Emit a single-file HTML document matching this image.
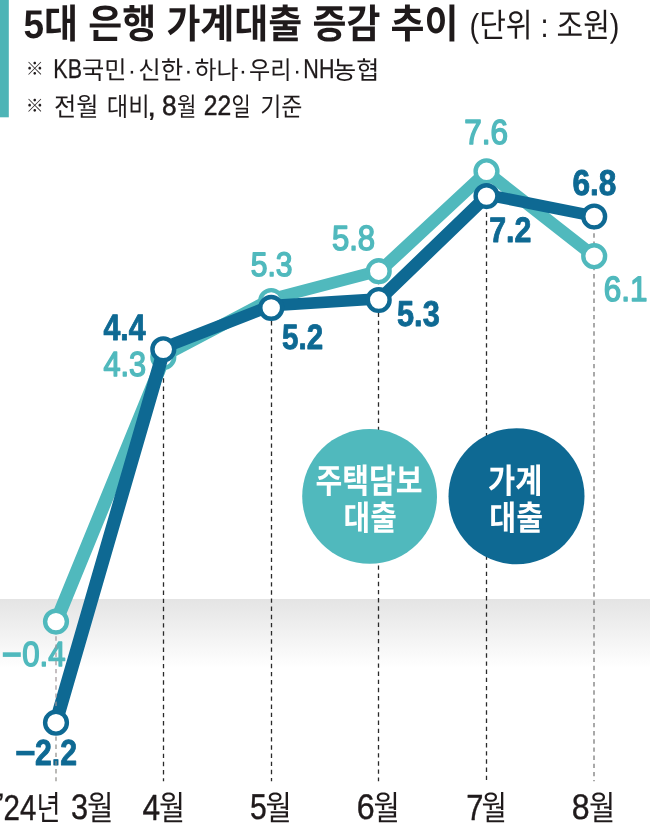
<!DOCTYPE html>
<html lang="ko"><head><meta charset="utf-8">
<title>5대 은행 가계대출 증감 추이</title>
<style>
html,body{margin:0;padding:0;background:#fff}
body{width:650px;height:827px;overflow:hidden;font-family:"Liberation Sans","Noto Sans CJK KR",sans-serif}
svg{display:block;will-change:transform}
text{font-family:"Liberation Sans","Noto Sans CJK KR",sans-serif;font-kerning:none;text-rendering:geometricPrecision}
</style></head><body>
<svg width="650" height="827" viewBox="0 0 650 827" role="img" aria-label="5대 은행 가계대출 증감 추이 (단위 : 조원)">
<defs><linearGradient id="zg" x1="0" y1="0" x2="0" y2="1"><stop offset="0" stop-color="#e4e4e4"/><stop offset="1" stop-color="#ffffff"/></linearGradient></defs>
<rect width="650" height="827" fill="#fff"/>
<rect x="0" y="599" width="650" height="69" fill="url(#zg)"/>
<rect x="0" y="0" width="8.8" height="117.3" fill="#4db4b6"/>
<g fill="#1f1a1b" aria-label="5대 은행 가계대출 증감 추이"><title>5대 은행 가계대출 증감 추이</title><text x="23.5" y="37.8" font-size="40" font-weight="700" fill="#1f1a1b" textLength="435" lengthAdjust="spacingAndGlyphs">5대 은행 가계대출 증감 추이</text></g>
<g fill="#1f1a1b" aria-label="(단위 : 조원)"><title>(단위 : 조원)</title><text x="469.5" y="37" font-size="33" fill="#1f1a1b" textLength="150" lengthAdjust="spacingAndGlyphs">(단위 : 조원)</text></g>
<text x="34.85" y="75.2" font-size="18" fill="#1f1a1b" text-anchor="middle">※</text>
<text x="34.85" y="112.4" font-size="18" fill="#1f1a1b" text-anchor="middle">※</text>
<g fill="#1f1a1b" aria-label="※ KB국민·신한·하나·우리·NH농협"><text x="82" y="79" font-size="25" fill="#1f1a1b" textLength="44.5" lengthAdjust="spacingAndGlyphs">국민</text><text x="131.9" y="79" font-size="25" fill="#1f1a1b" text-anchor="middle">·</text><text x="138.2" y="79" font-size="25" fill="#1f1a1b" textLength="45" lengthAdjust="spacingAndGlyphs">신한</text><text x="188.4" y="79" font-size="25" fill="#1f1a1b" text-anchor="middle">·</text><text x="194.5" y="79" font-size="25" fill="#1f1a1b" textLength="44" lengthAdjust="spacingAndGlyphs">하나</text><text x="243" y="79" font-size="25" fill="#1f1a1b" text-anchor="middle">·</text><text x="249" y="79" font-size="25" fill="#1f1a1b" textLength="42.5" lengthAdjust="spacingAndGlyphs">우리</text><text x="297.1" y="79" font-size="25" fill="#1f1a1b" text-anchor="middle">·</text><text x="333" y="79" font-size="25" fill="#1f1a1b" textLength="46.3" lengthAdjust="spacingAndGlyphs">농협</text><text transform="translate(53.36 78.25) scale(0.7904 1)" font-size="27.18" fill="#1f1a1b" stroke="#1f1a1b" stroke-width="0.30" stroke-linejoin="round">KB</text><text transform="translate(303.35 78.25) scale(0.7918 1)" font-size="27.18" fill="#1f1a1b" stroke="#1f1a1b" stroke-width="0.30" stroke-linejoin="round">NH</text></g>
<g fill="#1f1a1b" aria-label="※ 전월 대비, 8월 22일 기준"><text x="54" y="116" font-size="26" fill="#1f1a1b" textLength="44.5" lengthAdjust="spacingAndGlyphs">전월</text><text x="106.8" y="116" font-size="26" fill="#1f1a1b" textLength="42.8" lengthAdjust="spacingAndGlyphs">대비</text><text x="177" y="116" font-size="26" fill="#1f1a1b" textLength="19.4" lengthAdjust="spacingAndGlyphs">월</text><text x="231.4" y="116" font-size="26" fill="#1f1a1b" textLength="19.2" lengthAdjust="spacingAndGlyphs">일</text><text x="260.2" y="116" font-size="26" fill="#1f1a1b" textLength="42.2" lengthAdjust="spacingAndGlyphs">기준</text><text transform="translate(146.96 115.67) scale(1.0745 1)" font-size="31.08" fill="#1f1a1b" stroke="#1f1a1b" stroke-width="0.30" stroke-linejoin="round">,</text><text transform="translate(162.09 114.88) scale(0.9442 1)" font-size="27.82" fill="#1f1a1b" stroke="#1f1a1b" stroke-width="0.50" stroke-linejoin="round">8</text><text transform="translate(203.78 114.95) scale(0.8833 1)" font-size="27.93" fill="#1f1a1b" stroke="#1f1a1b" stroke-width="0.50" stroke-linejoin="round">22</text></g>
<g fill="none" stroke-width="1.3" stroke-dasharray="4.4 3.76">
<line x1="163.5" y1="345.7" x2="163.5" y2="781.3" stroke="#2a2a2a"/>
<line x1="271.5" y1="304.7" x2="271.5" y2="781.3" stroke="#2a2a2a"/>
<line x1="378.5" y1="271.7" x2="378.5" y2="781.3" stroke="#2a2a2a"/>
<line x1="486.5" y1="171.8" x2="486.5" y2="781.3" stroke="#2a2a2a"/>
<line x1="594.0" y1="217.0" x2="594.0" y2="781.3" stroke="#7c7c7c"/>
</g>
<circle cx="369.6" cy="496.4" r="67.4" fill="#50b9bd"/>
<circle cx="516.5" cy="496.3" r="68" fill="#0e6993"/>
<g fill="#fff" aria-label="주택담보 대출"><title>주택담보대출</title><text x="315.6" y="493" font-size="34" font-weight="700" fill="#fff" textLength="107" lengthAdjust="spacingAndGlyphs">주택담보</text><text x="343.6" y="530" font-size="34" font-weight="700" fill="#fff" textLength="53.2" lengthAdjust="spacingAndGlyphs">대출</text></g>
<g fill="#fff" aria-label="가계 대출"><title>가계대출</title><text x="488" y="493" font-size="34" font-weight="700" fill="#fff" textLength="54.3" lengthAdjust="spacingAndGlyphs">가계</text><text x="489.3" y="530" font-size="34" font-weight="700" fill="#fff" textLength="53.7" lengthAdjust="spacingAndGlyphs">대출</text></g>
<g aria-label="주택담보대출"><g transform="scale(1 0.86)"><polyline points="57.6,718.61 165.3,412.72 271.2,347.75 380.5,314.45 486.5,199.88 594.2,297.92" fill="none" stroke="#50b9bd" stroke-width="13.5" stroke-linejoin="round" stroke-linecap="round"/></g>
<circle cx="56.0" cy="621.6" r="10.9" fill="#fff" stroke="#50b9bd" stroke-width="4.4"/><circle cx="163.3" cy="357.0" r="10.9" fill="#fff" stroke="#50b9bd" stroke-width="4.4"/><circle cx="271.2" cy="301.0" r="10.9" fill="#fff" stroke="#50b9bd" stroke-width="4.4"/><circle cx="378.7" cy="271.2" r="10.9" fill="#fff" stroke="#50b9bd" stroke-width="4.4"/><circle cx="486.5" cy="171.3" r="10.9" fill="#fff" stroke="#50b9bd" stroke-width="4.4"/><circle cx="594.2" cy="256.2" r="10.9" fill="#fff" stroke="#50b9bd" stroke-width="4.4"/></g>
<g aria-label="가계대출"><g transform="scale(1 0.86)"><polyline points="57.0,835.49 164.7,403.82 271.2,355.38 380.2,347.40 488.0,226.71 594.2,251.21" fill="none" stroke="#0e6993" stroke-width="13.5" stroke-linejoin="round" stroke-linecap="round"/></g>
<circle cx="56.0" cy="722.7" r="10.9" fill="#fff" stroke="#0e6993" stroke-width="4.4"/><circle cx="163.3" cy="349.3" r="10.9" fill="#fff" stroke="#0e6993" stroke-width="4.4"/><circle cx="271.2" cy="307.9" r="10.9" fill="#fff" stroke="#0e6993" stroke-width="4.4"/><circle cx="378.7" cy="300.0" r="10.9" fill="#fff" stroke="#0e6993" stroke-width="4.4"/><circle cx="486.5" cy="196.1" r="10.9" fill="#fff" stroke="#0e6993" stroke-width="4.4"/><circle cx="594.2" cy="216.5" r="10.9" fill="#fff" stroke="#0e6993" stroke-width="4.4"/></g>
<g>
<text transform="translate(103.41 339.85) scale(0.8264 1)" font-size="36.63" font-weight="700" fill="#0e6993" stroke="#0e6993" stroke-width="0.90" stroke-linejoin="round">4.4</text>
<text transform="translate(103.46 375.81) scale(0.8825 1)" font-size="34.75" fill="#50b9bd" stroke="#50b9bd" stroke-width="1.50" stroke-linejoin="round">4.3</text>
<text transform="translate(250.66 275.82) scale(0.8869 1)" font-size="33.90" fill="#50b9bd" stroke="#50b9bd" stroke-width="1.50" stroke-linejoin="round">5.3</text>
<text transform="translate(282.07 348.51) scale(0.8360 1)" font-size="35.31" font-weight="700" fill="#0e6993" stroke="#0e6993" stroke-width="0.90" stroke-linejoin="round">5.2</text>
<text transform="translate(331.92 250.01) scale(0.8864 1)" font-size="35.03" fill="#50b9bd" stroke="#50b9bd" stroke-width="1.50" stroke-linejoin="round">5.8</text>
<text transform="translate(397.04 326.35) scale(0.8543 1)" font-size="35.94" font-weight="700" fill="#0e6993" stroke="#0e6993" stroke-width="0.90" stroke-linejoin="round">5.3</text>
<text transform="translate(464.17 143.81) scale(0.9055 1)" font-size="34.75" fill="#50b9bd" stroke="#50b9bd" stroke-width="1.50" stroke-linejoin="round">7.6</text>
<text transform="translate(489.18 242.15) scale(0.8570 1)" font-size="35.37" font-weight="700" fill="#0e6993" stroke="#0e6993" stroke-width="0.90" stroke-linejoin="round">7.2</text>
<text transform="translate(572.44 194.70) scale(0.8844 1)" font-size="35.73" font-weight="700" fill="#0e6993" stroke="#0e6993" stroke-width="0.90" stroke-linejoin="round">6.8</text>
<text transform="translate(22.25 666.11) scale(0.8947 1)" font-size="34.89" fill="#50b9bd" stroke="#50b9bd" stroke-width="1.50" stroke-linejoin="round">0.4</text>
<text transform="translate(35.03 765.25) scale(0.8340 1)" font-size="36.23" font-weight="700" fill="#0e6993" stroke="#0e6993" stroke-width="0.90" stroke-linejoin="round">2.2</text>
<g aria-label="6.1"><text transform="translate(603.77 300.71) scale(0.8942 1)" font-size="35.17" fill="#50b9bd" stroke="#50b9bd" stroke-width="1.50" stroke-linejoin="round">6.1</text></g>
<rect x="2.8" y="652.3" width="18" height="4.6" fill="#50b9bd"/><rect x="16.2" y="750.8" width="18.4" height="4.6" fill="#0e6993"/>
</g>
<g fill="none" stroke-width="1.2" stroke-dasharray="4.4 3.76">
<line x1="56" y1="636.3" x2="56" y2="709.5" stroke="#a09498"/>
<line x1="56" y1="736.4" x2="56" y2="781.3" stroke="#8e8c88"/>
</g>
<g fill="#1f1a1b" aria-label="'24년 3월 4월 5월 6월 7월 8월"><text x="36.5" y="820" font-size="34" fill="#1f1a1b" textLength="24" lengthAdjust="spacingAndGlyphs">년</text><text x="87" y="820" font-size="34" fill="#1f1a1b" textLength="26.5" lengthAdjust="spacingAndGlyphs">월</text><text x="159" y="820" font-size="34" fill="#1f1a1b" textLength="26" lengthAdjust="spacingAndGlyphs">월</text><text x="265.6" y="820" font-size="34" fill="#1f1a1b" textLength="26.2" lengthAdjust="spacingAndGlyphs">월</text><text x="373.4" y="820" font-size="34" fill="#1f1a1b" textLength="26.3" lengthAdjust="spacingAndGlyphs">월</text><text x="481.6" y="820" font-size="34" fill="#1f1a1b" textLength="25.4" lengthAdjust="spacingAndGlyphs">월</text><text x="589" y="820" font-size="34" fill="#1f1a1b" textLength="26.2" lengthAdjust="spacingAndGlyphs">월</text>
<text transform="translate(3.48 819.50) scale(0.8208 1)" font-size="35.95" fill="#1f1a1b" stroke="#1f1a1b" stroke-width="0.40" stroke-linejoin="round">24</text>
<text transform="translate(-3.40 814.98) scale(1.2343 1)" font-size="31.37" fill="#1f1a1b">’</text>
<text transform="translate(70.90 819.15) scale(0.8659 1)" font-size="35.45" fill="#1f1a1b" stroke="#1f1a1b" stroke-width="0.40" stroke-linejoin="round">3</text>
<text transform="translate(142.45 819.50) scale(0.8678 1)" font-size="36.48" fill="#1f1a1b" stroke="#1f1a1b" stroke-width="0.40" stroke-linejoin="round">4</text>
<text transform="translate(249.96 819.15) scale(0.8364 1)" font-size="35.97" fill="#1f1a1b" stroke="#1f1a1b" stroke-width="0.40" stroke-linejoin="round">5</text>
<text transform="translate(356.75 819.15) scale(0.9070 1)" font-size="35.45" fill="#1f1a1b" stroke="#1f1a1b" stroke-width="0.40" stroke-linejoin="round">6</text>
<text transform="translate(466.18 819.50) scale(0.8478 1)" font-size="36.48" fill="#1f1a1b" stroke="#1f1a1b" stroke-width="0.40" stroke-linejoin="round">7</text>
<text transform="translate(571.79 819.15) scale(0.9040 1)" font-size="35.45" fill="#1f1a1b" stroke="#1f1a1b" stroke-width="0.40" stroke-linejoin="round">8</text>
</g>
</svg>
</body></html>
